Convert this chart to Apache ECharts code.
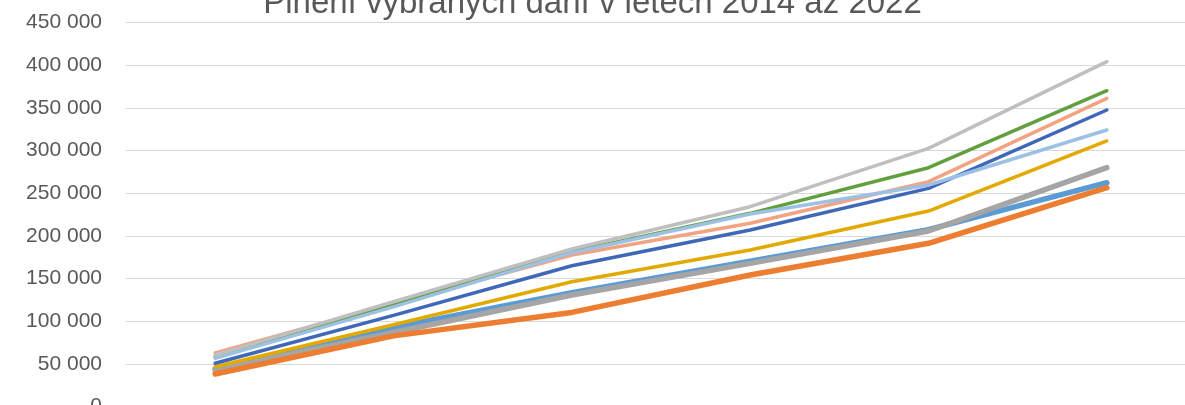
<!DOCTYPE html>
<html>
<head>
<meta charset="utf-8">
<script src="https://cdn.jsdelivr.net/npm/echarts@6/dist/echarts.min.js"></script>
<style>
html,body{margin:0;padding:0;background:#fff;}
#chart{width:1185px;height:405px;}
</style>
</head>
<body>
<div id="chart"></div>
<script>
const titleText = "Plnění vybraných daní v letech 2014 až 2022";
const categories = ["1", "2", "3", "4", "5", "6"];
const yTicks = [0, 50000, 100000, 150000, 200000, 250000, 300000, 350000, 400000, 450000];

const sBlue      = [44000, 93000, 133500, 170500, 207500, 262500];
const sGray      = [43000, 87000, 130900, 168000, 205900, 280100];
const sOrange    = [38300, 83000, 110500, 154300, 191500, 256600];
const sGold      = [46900, 96000, 146500, 183600, 229300, 311400];
const sDarkBlue  = [50900, 107000, 165200, 207100, 255900, 347700];
const sSalmon    = [63000, 121000, 177800, 214900, 263700, 361400];
const sGreen     = [58500, 120000, 181700, 226600, 280100, 370300];
const sLightBlue = [56700, 117000, 180500, 225800, 259800, 324300];
const sLightGray = [60600, 123000, 184800, 234400, 302800, 404300];

const seriesDefs = [
  {name: "Řada 1", data: sBlue, color: "#5B9BD5", w: 5.5},
  {name: "Řada 2", data: sGray, color: "#A5A5A5", w: 5.5},
  {name: "Řada 3", data: sOrange, color: "#ED7D31", w: 5.5},
  {name: "Řada 4", data: sGold, color: "#E2AA00", w: 3.5},
  {name: "Řada 5", data: sDarkBlue, color: "#3F68B8", w: 3.5},
  {name: "Řada 6", data: sSalmon, color: "#F2A482", w: 3.5},
  {name: "Řada 7", data: sGreen, color: "#62A03F", w: 3.5},
  {name: "Řada 8", data: sLightBlue, color: "#9DC0E5", w: 3.5},
  {name: "Řada 9", data: sLightGray, color: "#BFBFBF", w: 3.5}
];

function fmt(v){ return String(v).replace(/\B(?=(\d{3})+(?!\d))/g, " "); }

const chart = echarts.init(document.getElementById('chart'), null, {renderer: 'canvas'});
chart.setOption({
  animation: false,
  backgroundColor: '#ffffff',
  title: {
    text: titleText,
    left: 'center',
    top: -18,
    textStyle: {fontFamily: 'Liberation Sans', fontSize: 33, fontWeight: 'normal', color: '#595959'}
  },
  grid: {left: 126, top: 22.7, width: 1070, height: 384, containLabel: false, outerBoundsMode: 'none'},
  xAxis: {
    type: 'category',
    data: categories,
    boundaryGap: true,
    axisLine: {show: true, lineStyle: {color: '#D9D9D9'}},
    axisTick: {show: false},
    axisLabel: {show: true, color: '#595959', fontFamily: 'Liberation Sans', fontSize: 21},
    splitLine: {show: false}
  },
  yAxis: {
    type: 'value',
    min: yTicks[0],
    max: yTicks[yTicks.length - 1],
    interval: yTicks[1] - yTicks[0],
    axisLine: {show: false},
    axisTick: {show: false},
    axisLabel: {color: '#595959', fontFamily: 'Liberation Sans', fontSize: 21, margin: 24, formatter: fmt},
    splitLine: {lineStyle: {color: '#D9D9D9', width: 1}}
  },
  series: seriesDefs.map(s => ({
    name: s.name,
    type: 'line',
    data: s.data,
    symbol: 'none',
    smooth: false,
    lineStyle: {color: s.color, width: s.w, cap: 'round', join: 'round'},
    itemStyle: {color: s.color}
  }))
});
</script>
</body>
</html>
